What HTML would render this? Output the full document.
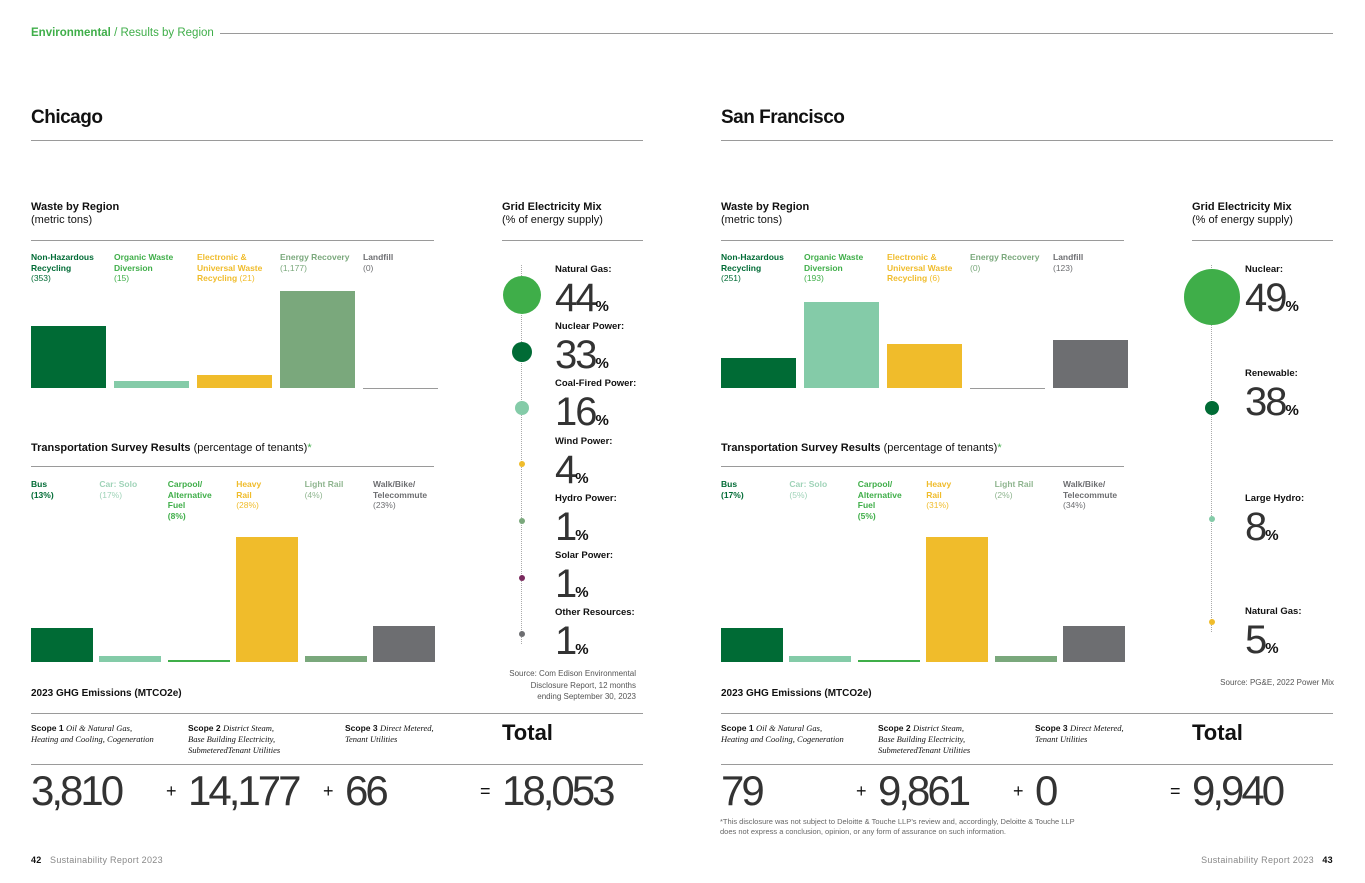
<!DOCTYPE html>
<html><head><meta charset="utf-8"><style>
body{margin:0;width:1365px;height:883px;background:#fff;font-family:"Liberation Sans",sans-serif;position:relative;overflow:hidden;color:#111}
.a{position:absolute;white-space:nowrap}
.hl{position:absolute;height:1px;background:#9a9a9a}
.b{font-weight:bold}
.lab{font-size:8.5px;line-height:10.5px;font-weight:bold}
.big{font-size:42px;letter-spacing:-3px;font-weight:normal;line-height:42px;color:#333}
.mixn{font-size:40px;letter-spacing:-2px;line-height:40px;color:#333}
.pct{font-size:15px;letter-spacing:0;font-weight:bold;color:#111}
.scope{font-size:8.5px;line-height:11px}
.scope i{font-family:"Liberation Serif",serif}
</style></head><body>
<div class="a" style="left:31px;top:27px;font-size:11.5px;color:#3fae49"><b>Environmental</b> / Results by Region</div>
<div class="hl" style="left:220px;top:33px;width:1113px"></div>
<div id="root"></div>
<script>
const wasteCats=["Non-Hazardous<br>Recycling","Organic Waste<br>Diversion","Electronic &amp;<br>Universal Waste<br>Recycling","Energy Recovery","Landfill"];
const wasteColors=["#006b35","#84cba8","#f0bc2b","#7aa87c","#6d6e71"];
const wasteLabelColors=["#006b35","#3fae49","#f0bc2b","#7aa87c","#6d6e71"];
const chiWaste=["353","15","21","1,177","0"];
const chiWasteLevel=[64,7,13,100,0];
const sfWaste=["251","193","6","0","123"];
const sfWasteLevel=[31,89,45,0,49];
const transCats=["Bus","Car: Solo","Carpool/<br>Alternative<br>Fuel","Heavy<br>Rail","Light Rail","Walk/Bike/<br>Telecommute"];
const transColors=["#006b35","#84cba8","#3fae49","#f0bc2b","#7aa87c","#6d6e71"];
const transLabelColors=["#006b35","#9fd3b8","#3fae49","#f0bc2b","#8fb58f","#6d6e71"];
const chiTrans=[13,17,8,28,4,23];
const chiTransLevel=[27,5,2,100,5,29];
const sfTrans=[17,5,5,31,2,34];
const sfTransLevel=[27,5,2,100,5,29];
const chiMixNames=["Natural Gas:","Nuclear Power:","Coal-Fired Power:","Wind Power:","Hydro Power:","Solar Power:","Other Resources:"];
const chiMix=[44,33,16,4,1,1,1];
const chiMixDot=[19,10,7,3,3,3,3];
const chiMixColors=["#3fae49","#006b35","#84cba8","#f0bc2b","#7aa87c","#7a2a5e","#6d6e71"];
const sfMixNames=["Nuclear:","Renewable:","Large Hydro:","Natural Gas:"];
const sfMix=[49,38,8,5];
const sfMixDot=[28,7,3,3];
const sfMixColors=["#3fae49","#006b35","#84cba8","#f0bc2b"];
const chiGhg=["3,810","14,177","66","18,053"];
const sfGhg=["79","9,861","0","9,940"];
const root=document.getElementById('root');
function el(html,x,y,cls,style){const d=document.createElement('div');d.className='a '+(cls||'');d.style.left=x+'px';d.style.top=y+'px';if(style)d.style.cssText+=style;d.innerHTML=html;root.appendChild(d);return d;}
function line(x,y,w){const d=document.createElement('div');d.className='hl';d.style.left=x+'px';d.style.top=y+'px';d.style.width=w+'px';root.appendChild(d);return d;}
function wasteY(v){return 388-v/100*97;}
function transY(v){return 662-v/100*125;}
function page(ox,city,wasteVals,wasteLvl,transVals,transLvl,mixNames,mix,mixDot,mixColors,mixRows,dotRows,srcHtml,srcY,srcRight,ghg){
  let t=el(city,ox+31,107,'b','font-size:19px;letter-spacing:-0.5px');
  
  
  line(ox+31,140,612);
  el('<b>Waste by Region</b><br>(metric tons)',ox+31,201,'','font-size:11px;line-height:13px');
  line(ox+31,240,403);
  for(let i=0;i<5;i++){
    const x=ox+31+i*83;
    const lab=el(wasteCats[i]+(i==2?' ':'<br>')+'<span style="font-weight:normal">('+wasteVals[i]+')</span>',x,252,'lab','color:'+wasteLabelColors[i]);
    
    
    const y=wasteY(wasteLvl[i]);
    const b=el('',x,y,'','width:75px;height:'+Math.max(388-y,1)+'px;background:'+(wasteLvl[i]>0?wasteColors[i]:'#9a9a9a'));
    
    
  }
  el('<b>Transportation Survey Results</b> (percentage of tenants)<span style="color:#3fae49">*</span>',ox+31,442,'','font-size:11px');
  line(ox+31,466,403);
  for(let i=0;i<6;i++){
    const x=ox+31+i*68.4;
    const lab=el(transCats[i]+'<br><span style="font-weight:'+(i==0||i==2?'bold':'normal')+'">('+transVals[i]+'%)</span>',x,479,'lab','color:'+transLabelColors[i]);
    
    
    const y=transY(transLvl[i]);
    const b=el('',x,y,'','width:62px;height:'+(662-y)+'px;background:'+transColors[i]);
    
    
  }
  const gx=ox+502;
  el('<b>Grid Electricity Mix</b><br>(% of energy supply)',gx,201,'','font-size:11px;line-height:13px');
  line(gx,240,141);
  const lx=gx+19;
  const last=dotRows[dotRows.length-1];
  el('',lx,265,'','width:0;height:'+(last-265+10)+'px;border-left:1px dotted #aaa');
  for(let i=0;i<mix.length;i++){
    const ry=mixRows[i];
    const r=mixDot[i];
    const c=el('',lx-r+0.5,dotRows[i]-r,'','width:'+(2*r)+'px;height:'+(2*r)+'px;border-radius:50%;background:'+mixColors[i]);
    
    
    el(mixNames[i],gx+53,ry,'b','font-size:9.5px');
    el(mix[i]+'<span class="pct">%</span>',gx+53,ry+14,'mixn');
  }
  el(srcHtml,srcRight-220,srcY,'','font-size:8px;line-height:11.5px;color:#555;text-align:right;width:220px');
  el('<b>2023 GHG Emissions (MTCO2e)</b>',ox+31,688,'','font-size:10px');
  line(ox+31,713,612);
  el('<b>Scope 1</b> <i>Oil &amp; Natural Gas,<br>Heating and Cooling, Cogeneration</i>',ox+31,723,'scope');
  el('<b>Scope 2</b> <i>District Steam,<br>Base Building Electricity,<br>SubmeteredTenant Utilities</i>',ox+188,723,'scope');
  el('<b>Scope 3</b> <i>Direct Metered,<br>Tenant Utilities</i>',ox+345,723,'scope');
  el('Total',ox+502,720,'b','font-size:22px');
  line(ox+31,764,612);
  const gxs=[31,188,345,502];const ops=['','+','+','='];
  for(let i=0;i<4;i++){
    const n=el(ghg[i],ox+gxs[i],770,'big');
    
    
    if(ops[i])el(ops[i],ox+gxs[i]-22,781,'','font-size:18px');
  }
}
page(0,'Chicago',chiWaste,chiWasteLevel,chiTrans,chiTransLevel,chiMixNames,chiMix,chiMixDot,chiMixColors,[264,321,378,436,493,550,607],[295,352,408,464,521,578,634],'Source: Com Edison Environmental<br>Disclosure Report, 12 months<br>ending September 30, 2023',668,636,chiGhg);
page(690,'San Francisco',sfWaste,sfWasteLevel,sfTrans,sfTransLevel,sfMixNames,sfMix,sfMixDot,sfMixColors,[264,368,493,606],[297,408,519,622],'Source: PG&amp;E, 2022 Power Mix',677,1334,sfGhg);
el('*This disclosure was not subject to Deloitte &amp; Touche LLP’s review and, accordingly,  Deloitte &amp; Touche LLP<br>does not express a conclusion, opinion, or any form of assurance on such information.',720,817,'','font-size:7.5px;line-height:10px;color:#666');
el('<b style="color:#111">42</b>&nbsp;&nbsp; Sustainability Report 2023',31,855,'','font-size:9px;color:#888;letter-spacing:0.3px');
el('Sustainability Report 2023 &nbsp;&nbsp;<b style="color:#111">43</b>',1150,855,'','font-size:9px;color:#888;letter-spacing:0.3px;width:183px;text-align:right');
</script>
</body></html>
